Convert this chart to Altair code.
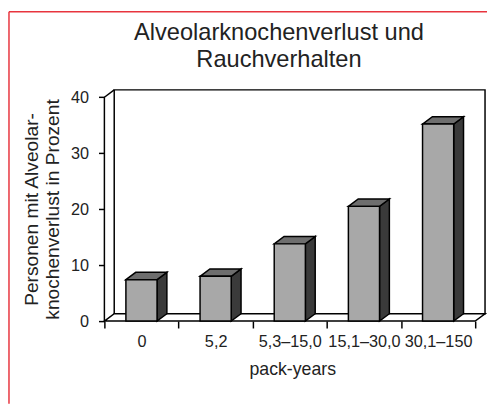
import json
import altair as alt
import pandas as pd

# ---- data ----
categories = ["0", "5,2", "5,3–15,0", "15,1–30,0", "30,1–150"]
values = [7.4, 8.0, 13.8, 20.5, 35.2]
y_ticks = [0, 10, 20, 30, 40]
title_lines = ["Alveolarknochenverlust und", "Rauchverhalten"]
y_title = ["Personen mit Alveolar-", "knochenverlust in Prozent"]
x_title = "pack-years"

# ---- layout / style constants ----
FONT = "Liberation Sans"
TXT = "#222222"
PXX = 75.4      # px per category
PXY = 5.69      # px per percent
DX, DY = 10, 7.5  # 3D depth in px
n = len(categories)
W = round(n * PXX + DX)
H = round(40 * PXY + DY)
dxu = DX / PXX
dyu = DY / PXY
BW = 0.42
YMAX = 40

xs = alt.Scale(domain=[0, W / PXX], nice=False, zero=False)
ys = alt.Scale(domain=[0, H / PXY], nice=False, zero=False)

# ---- tables built from the arrays ----
front = pd.DataFrame({
    "cat": categories,
    "x": [i + 0.5 - BW / 2 for i in range(n)],
    "x2": [i + 0.5 + BW / 2 for i in range(n)],
    "y": values,
    "y2": [0] * n,
})
side_rows, top_rows = [], []
for i, v in enumerate(values):
    L, R = i + 0.5 - BW / 2, i + 0.5 + BW / 2
    side_rows += [
        {"bar": i, "x": R, "y": v, "y2": 0},
        {"bar": i, "x": R + dxu, "y": v + dyu, "y2": dyu},
    ]
    top_rows += [
        {"bar": i, "x": L, "y": v, "y2": v},
        {"bar": i, "x": L + dxu, "y": v + dyu, "y2": v},
        {"bar": i, "x": R, "y": v + dyu, "y2": v},
        {"bar": i, "x": R + dxu, "y": v + dyu, "y2": v + dyu},
    ]
side = pd.DataFrame(side_rows)
top = pd.DataFrame(top_rows)

floor = pd.DataFrame({
    "x": [0, dxu, n, n + dxu],
    "y": [0, dyu, dyu, dyu],
    "y2": [0, 0, 0, dyu],
})
wall = pd.DataFrame({"x": [dxu], "x2": [n + dxu], "y": [dyu], "y2": [YMAX + dyu]})
yaxis_line = pd.DataFrame({"x": [0, 0], "x2": [0, dxu], "y": [0, YMAX], "y2": [YMAX, YMAX + dyu]})
one = pd.DataFrame({"a": [0]})

label_expr = json.dumps(categories, ensure_ascii=False) + "[datum.value] || ''"

x_axis = alt.Axis(
    values=list(range(n + 1)), labelExpr=label_expr, labelOffset=PXX / 2,
    tickSize=7, tickColor="black", tickWidth=1.5, domain=False, grid=False,
    labelPadding=6, labelFontSize=16.5, labelFont=FONT, labelColor=TXT,
    labelFlush=False, labelOverlap=False,
    title=x_title, titleFontSize=18, titleFont=FONT, titleColor=TXT,
    titleFontWeight="normal", titleX=191, titleY=54,
    titleBaseline="alphabetic", titleAlign="center",
)
y_axis = alt.Axis(
    values=y_ticks, tickSize=6, tickColor="black", tickWidth=1.5,
    domain=False, grid=False, labelPadding=10, labelFontSize=16.5,
    labelFont=FONT, labelColor=TXT,
    title=y_title, titleFontSize=19.5, titleFont=FONT, titleColor=TXT,
    titleFontWeight="normal", titleLineHeight=21, titleAngle=270,
    titleX=-68, titleY=121, titleAlign="center", titleBaseline="alphabetic",
)

X = alt.X("x:Q", scale=xs, axis=x_axis)
Y = alt.Y("y:Q", scale=ys, axis=y_axis)

wall_l = alt.Chart(wall).mark_rect(fill="white", stroke="black", strokeWidth=1.5).encode(
    x=X, x2="x2", y=Y, y2="y2",
)
floor_l = alt.Chart(floor).mark_area(fill="white", stroke="black", strokeWidth=1.5, orient="vertical").encode(
    x=X, y=Y, y2="y2",
)
yline_l = alt.Chart(yaxis_line).mark_rule(color="black", strokeWidth=1.5).encode(
    x=X, x2="x2", y=Y, y2="y2",
)
side_l = alt.Chart(side).mark_area(fill="#3a3a3a", stroke="black", strokeWidth=1.5, orient="vertical").encode(
    x=X, y=Y, y2="y2", detail="bar:N",
)
top_l = alt.Chart(top).mark_area(fill="#6e6e6e", stroke="black", strokeWidth=1.5, orient="vertical").encode(
    x=X, y=Y, y2="y2", detail="bar:N",
)
front_l = alt.Chart(front).mark_rect(fill="#a8a8a8", stroke="black", strokeWidth=1.5).encode(
    x=X, x2="x2", y=Y, y2="y2",
)
frame_top = alt.Chart(one).mark_rule(color="#e8343e", strokeWidth=1.5).encode(
    x=alt.value(-97), x2=alt.value(W + 2), y=alt.value(-79.5)
)
frame_left = alt.Chart(one).mark_rule(color="#e8343e", strokeWidth=1.5).encode(
    x=alt.value(-97), y=alt.value(-79.5), y2=alt.value(H + 84)
)

chart = alt.layer(
    wall_l, floor_l, yline_l, side_l, top_l, front_l, frame_top, frame_left
).properties(
    width=W, height=H,
    autosize=alt.AutoSizeParams(type="none"),
    padding={"left": 98, "top": 80, "right": 2, "bottom": 84},
    title=alt.TitleParams(
        title_lines, fontSize=24, fontWeight="normal", font=FONT, color=TXT,
        lineHeight=28, anchor="middle", frame="group", dx=-16, offset=-62,
    ),
).configure_view(stroke=None)

chart.save("out.html", embed_options={"renderer": "svg", "actions": False})
